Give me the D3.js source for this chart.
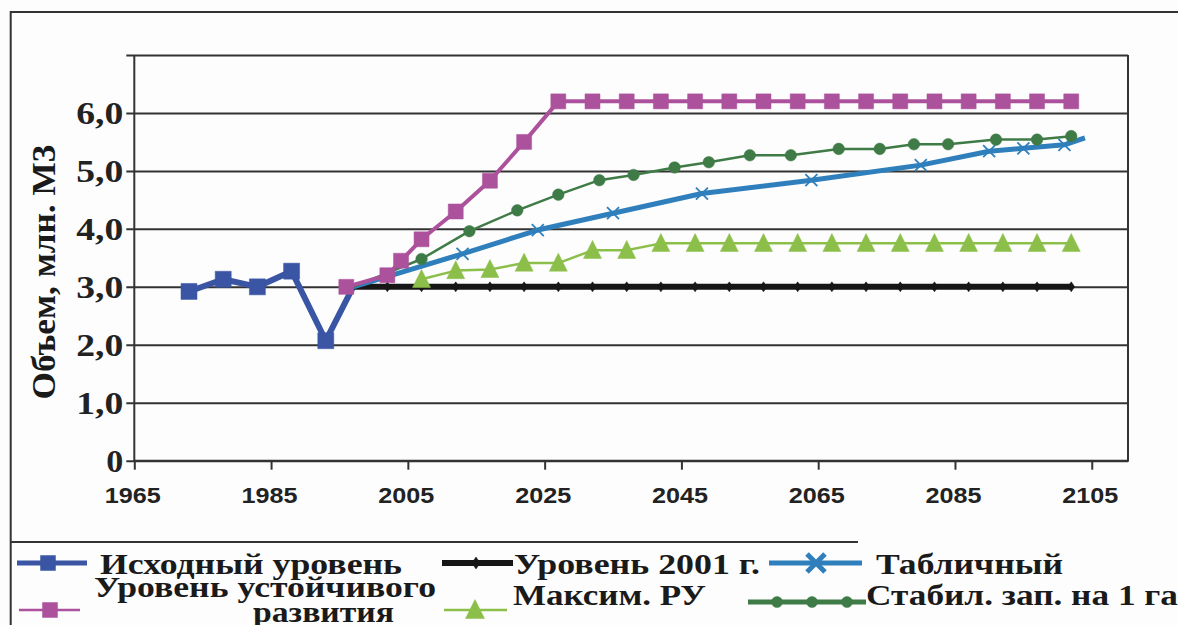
<!DOCTYPE html>
<html>
<head>
<meta charset="utf-8">
<script src="https://cdn.jsdelivr.net/npm/d3@7"></script>
<style>
body{margin:0;background:#fff;}
svg{display:block;}
</style>
</head>
<body>
<svg id="myGraph" width="1178" height="625"></svg>
<script>
// series data
var yearsIshod = [1973, 1978, 1983, 1988, 1993, 1997];
var ishod = [2.92, 3.13, 3.0, 3.27, 2.07, 3.0];

var years2001 = [1997, 2002, 2007, 2012, 2017, 2022, 2027, 2032, 2037, 2042, 2047,
  2052, 2057, 2062, 2067, 2072, 2077, 2082, 2087, 2092, 2097, 2102];
var level2001 = [3.0, 3.0, 3.0, 3.0, 3.0, 3.0, 3.0, 3.0, 3.0, 3.0, 3.0,
  3.0, 3.0, 3.0, 3.0, 3.0, 3.0, 3.0, 3.0, 3.0, 3.0, 3.0];

var yearsTabl = [1997, 2013, 2024, 2035, 2048, 2064, 2080, 2090, 2095, 2101, 2104];
var tabl = [3.0, 3.57, 3.98, 4.27, 4.61, 4.84, 5.1, 5.34, 5.39, 5.45, 5.57];

var yearsUst = [1996, 2002, 2004, 2007, 2012, 2017, 2022, 2027, 2032, 2037, 2042, 2047,
  2052, 2057, 2062, 2067, 2072, 2077, 2082, 2087, 2092, 2097, 2102];
var ust = [3.0, 3.2, 3.45, 3.82, 4.3, 4.83, 5.5, 6.2, 6.2, 6.2, 6.2, 6.2,
  6.2, 6.2, 6.2, 6.2, 6.2, 6.2, 6.2, 6.2, 6.2, 6.2, 6.2];

var yearsMax = [2007, 2012, 2017, 2022, 2027, 2032, 2037, 2042, 2047,
  2052, 2057, 2062, 2067, 2072, 2077, 2082, 2087, 2092, 2097, 2102];
var maxRU = [3.13, 3.28, 3.3, 3.41, 3.41, 3.63, 3.63, 3.75, 3.75,
  3.75, 3.75, 3.75, 3.75, 3.75, 3.75, 3.75, 3.75, 3.75, 3.75, 3.75];

var yearsStab = [1997, 2007, 2014, 2021, 2027, 2033, 2038, 2044, 2049, 2055,
  2061, 2068, 2074, 2079, 2084, 2091, 2097, 2102];
var stab = [3.0, 3.48, 3.96, 4.32, 4.59, 4.84, 4.93, 5.06, 5.15, 5.27,
  5.27, 5.38, 5.38, 5.46, 5.46, 5.54, 5.54, 5.6];

var xTicks = [1965, 1985, 2005, 2025, 2045, 2065, 2085, 2105];
var yTicks = [0, 1, 2, 3, 4, 5, 6, 7];
var yTitle = "Объем, млн. М3";

var svg = d3.select("#myGraph");
var plotLeft = 134.3, plotRight = 1128, plotTop = 55, plotBottom = 460.7;
var plotW = plotRight - plotLeft;

var x = d3.scaleLinear().domain([1965, 2110.3]).range([plotLeft, plotRight]);
var y = d3.scaleLinear().domain([0, 7]).range([plotBottom, plotTop]);

var serif = "'Liberation Serif', 'Times New Roman', serif";
var sans = "'Liberation Sans', Arial, sans-serif";

// outer frame (cut off on the right and bottom)
svg.append("rect").attr("width", 1178).attr("height", 625).attr("fill", "#fdfdfd");
svg.append("path")
  .attr("d", "M10.7,625V12H1180")
  .attr("fill", "none").attr("stroke", "#333").attr("stroke-width", 2);
svg.append("line")
  .attr("x1", 10.7).attr("x2", 858).attr("y1", 542).attr("y2", 542)
  .attr("stroke", "#333").attr("stroke-width", 2);

// y axis with grid lines
var yAxis = svg.append("g")
  .attr("transform", "translate(" + plotLeft + ",0)")
  .call(d3.axisLeft(y).tickValues(yTicks).tickSize(-plotW).tickPadding(11)
    .tickFormat(function(d){
      if (d === 0) return "0";
      if (d === 7) return "";
      return d.toFixed(1).replace(".", ",");
    }));
yAxis.select(".domain").remove();
yAxis.selectAll(".tick line")
  .attr("x1", -8)
  .attr("stroke", "#333").attr("stroke-width", 2);
yAxis.selectAll(".tick text")
  .attr("font-family", serif).attr("font-weight", "bold")
  .attr("font-size", 31).attr("fill", "#222")
  .attr("dy", "0.34em")
  .attr("textLength", function(d){ return d === 0 ? 17 : 47; })
  .attr("lengthAdjust", "spacingAndGlyphs");

// x axis
var xAxis = svg.append("g")
  .attr("transform", "translate(0," + plotBottom + ")")
  .call(d3.axisBottom(x).tickValues(xTicks).tickSize(9).tickPadding(18)
    .tickFormat(d3.format("d")));
xAxis.select(".domain").remove();
xAxis.selectAll(".tick line").attr("stroke", "#333").attr("stroke-width", 2);
xAxis.selectAll(".tick text")
  .attr("font-family", sans).attr("font-weight", "bold")
  .attr("font-size", 22).attr("fill", "#222")
  .attr("dx", -2)
  .attr("textLength", 56).attr("lengthAdjust", "spacingAndGlyphs");

// plot border
svg.append("path")
  .attr("d", "M" + plotLeft + "," + plotTop + "V" + plotBottom + "H" + plotRight + "V" + plotTop)
  .attr("fill", "none").attr("stroke", "#333").attr("stroke-width", 2);

// y title
svg.append("text")
  .attr("transform", "translate(55,272) rotate(-90)")
  .attr("text-anchor", "middle")
  .attr("font-family", serif).attr("font-weight", "bold")
  .attr("font-size", 34).attr("fill", "#1a1a1a")
  .attr("textLength", 255).attr("lengthAdjust", "spacingAndGlyphs")
  .text(yTitle);

// marker shapes
function markerPath(type, s){
  if (type === "square") return d3.symbol(d3.symbolSquare, s * s)();
  if (type === "diamond") return "M0," + (-s) + "L" + (s * 0.7) + ",0L0," + s + "L" + (-s * 0.7) + ",0Z";
  if (type === "triangle") return "M0," + (-s * 0.55) + "L" + (s * 0.5) + "," + (s * 0.45) + "L" + (-s * 0.5) + "," + (s * 0.45) + "Z";
  if (type === "circle") return d3.symbol(d3.symbolCircle, Math.PI * s * s)();
  if (type === "x") return "M" + (-s) + "," + (-s) + "L" + s + "," + s + "M" + (-s) + "," + s + "L" + s + "," + (-s);
  return "";
}

var series = [
  {name: "Исходный уровень", xs: yearsIshod, ys: ishod, color: "#3A55A4", width: 6, marker: "square", ms: 16, skip: [5]},
  {name: "Уровень 2001 г.", xs: years2001, ys: level2001, color: "#161616", width: 6, marker: "diamond", ms: 5, skip: [0]},
  {name: "Табличный", xs: yearsTabl, ys: tabl, color: "#2F7FBC", width: 5, marker: "x", ms: 6, skip: [0, 10]},
  {name: "Максим. РУ", xs: yearsMax, ys: maxRU, color: "#8CBF4A", width: 2.5, marker: "triangle", ms: 18, skip: []},
  {name: "Стабил. зап. на 1 га", xs: yearsStab, ys: stab, color: "#3F7B46", width: 2.5, marker: "circle", ms: 5.8, skip: [0]},
  {name: "Уровень устойчивого развития", xs: yearsUst, ys: ust, color: "#AC529D", width: 4, marker: "square", ms: 15, skip: []}
];

var line = d3.line()
  .x(function(d){ return x(d[0]); })
  .y(function(d){ return y(d[1]); });

series.forEach(function(s){
  var pts = s.xs.map(function(v, i){ return [v, s.ys[i], i]; });
  var g = svg.append("g");
  g.append("path")
    .datum(pts)
    .attr("d", line)
    .attr("fill", "none")
    .attr("stroke", s.color)
    .attr("stroke-width", s.width)
    .attr("stroke-linejoin", "round");
  g.selectAll("path.mark")
    .data(pts.filter(function(d){ return s.skip.indexOf(d[2]) < 0; }))
    .enter()
    .append("path")
    .attr("class", "mark")
    .attr("transform", function(d){ return "translate(" + x(d[0]) + "," + y(d[1]) + ")"; })
    .attr("d", markerPath(s.marker, s.ms))
    .attr("fill", s.marker === "x" ? "none" : s.color)
    .attr("stroke", s.color)
    .attr("stroke-width", s.marker === "x" ? 1.8 : 0.5);
});

// legend
var legendItems = [
  {s: 0, x1: 17, x2: 87, y: 563, mx: [48], ms: 15, lw: 5, text: ["Исходный уровень"], tx: 100, ty: [574], tl: [302]},
  {s: 1, x1: 442, x2: 513, y: 563, mx: [476], ms: 6, lw: 6, text: ["Уровень 2001 г."], tx: 514, ty: [574], tl: [246]},
  {s: 2, x1: 769, x2: 862, y: 563, mx: [816], ms: 9, lw: 5, text: ["Табличный"], tx: 876, ty: [574], tl: [187]},
  {s: 5, x1: 19, x2: 80, y: 610, mx: [50], ms: 15, lw: 2.5, text: ["Уровень устойчивого", "развития"], tx: 94, ty: [597, 622], tl: [342, 141], tx2: 253},
  {s: 3, x1: 444, x2: 507, y: 610, mx: [475], ms: 19, lw: 2.5, text: ["Максим. РУ"], tx: 513, ty: [605], tl: [193]},
  {s: 4, x1: 748, x2: 866, y: 602, mx: [777, 812, 847], ms: 5.5, lw: 5, text: ["Стабил. зап. на 1 га"], tx: 866, ty: [605], tl: [312]}
];

var legend = svg.append("g");
legendItems.forEach(function(it){
  var s = series[it.s];
  legend.append("line")
    .attr("x1", it.x1).attr("x2", it.x2).attr("y1", it.y).attr("y2", it.y)
    .attr("stroke", s.color).attr("stroke-width", it.lw);
  it.mx.forEach(function(mx){
    legend.append("path")
      .attr("transform", "translate(" + mx + "," + it.y + ")")
      .attr("d", markerPath(s.marker, it.ms))
      .attr("fill", s.marker === "x" ? "none" : s.color)
      .attr("stroke", s.color)
      .attr("stroke-width", s.marker === "x" ? 5 : 0.5);
  });
  it.text.forEach(function(t, i){
    legend.append("text")
      .attr("x", i === 0 ? it.tx : it.tx2)
      .attr("y", it.ty[i])
      .attr("font-family", serif).attr("font-weight", "bold")
      .attr("font-size", 30).attr("fill", "#1a1a1a")
      .attr("textLength", it.tl[i]).attr("lengthAdjust", "spacingAndGlyphs")
      .text(t);
  });
});
</script>
</body>
</html>
